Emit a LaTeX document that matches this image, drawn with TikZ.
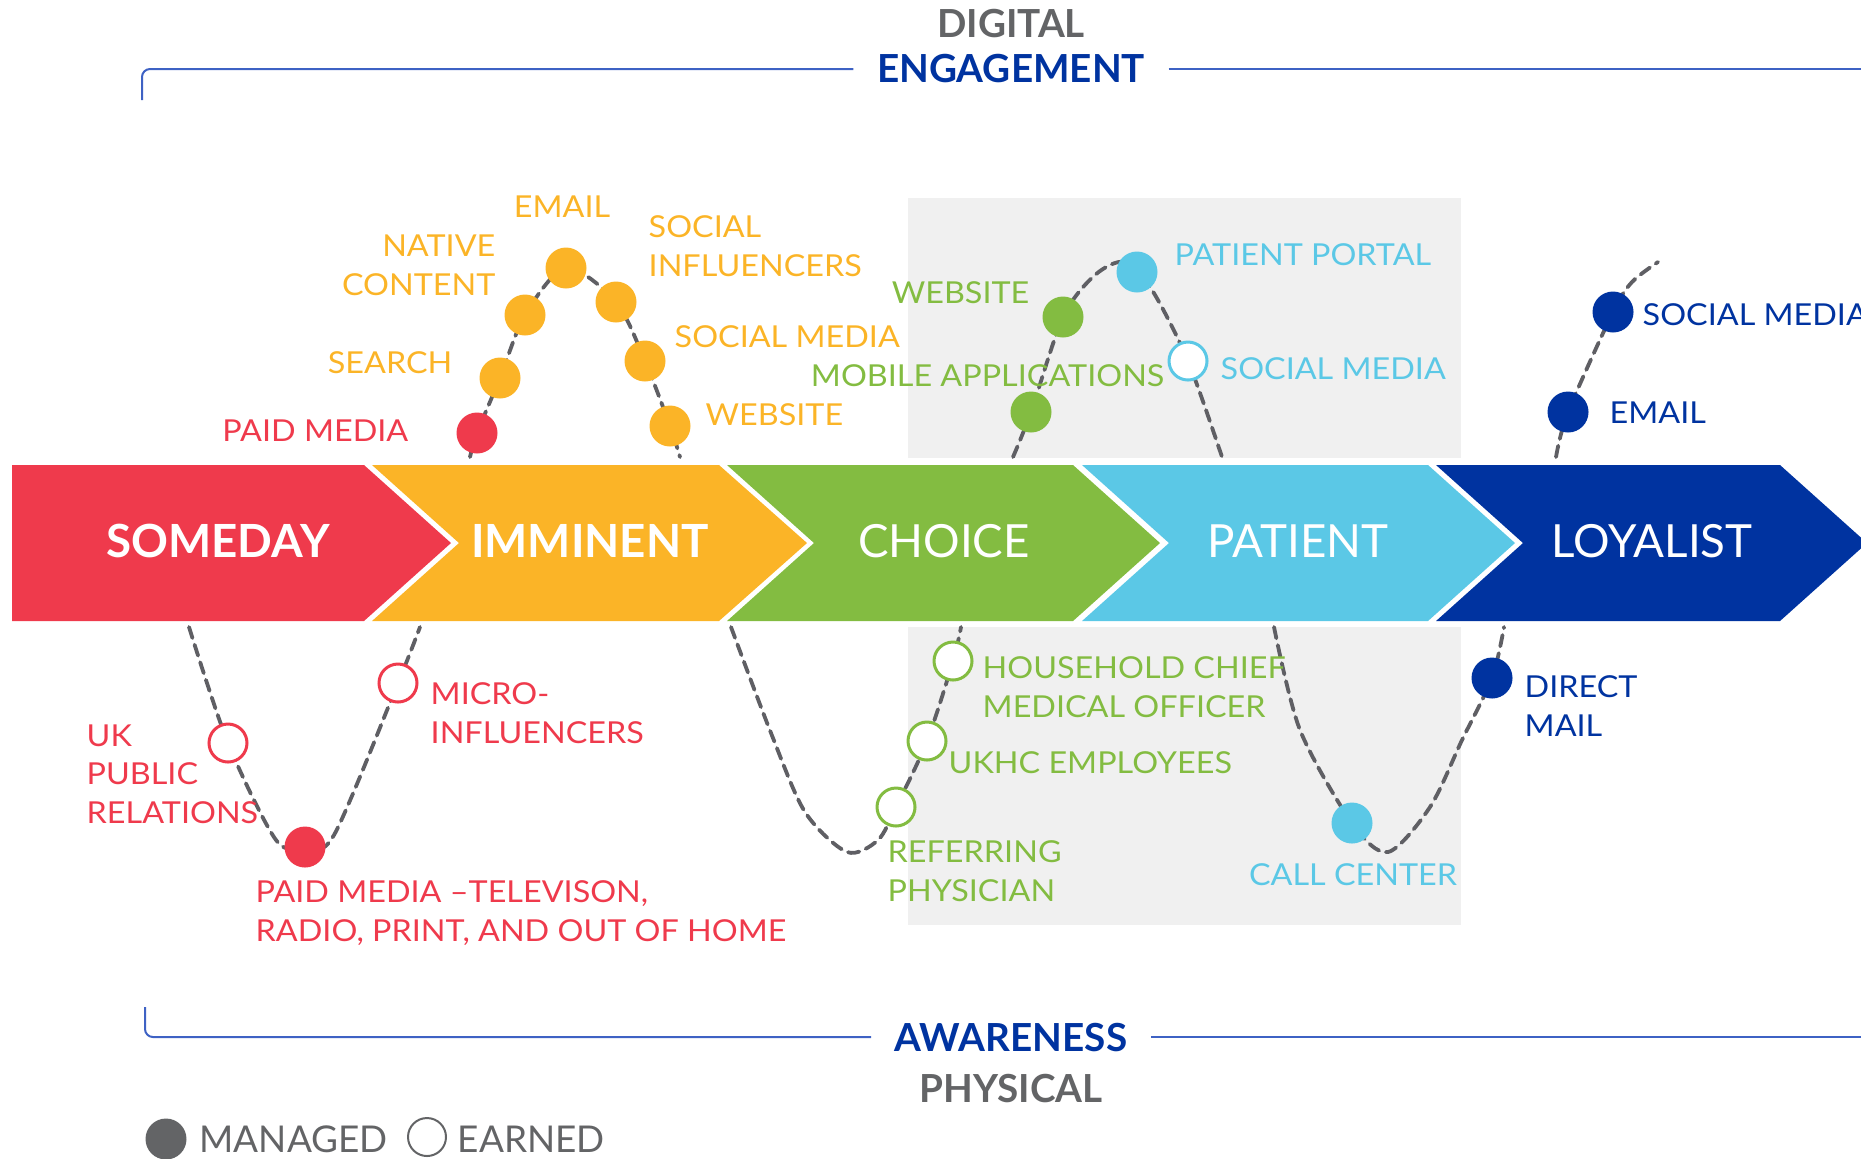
\documentclass[tikz,border=0pt]{standalone}
\usepackage{fontspec}
\setmainfont{Lato}
\newfontfamily\tagfont{Lato}[FakeStretch=1.07, Ligatures=TeX]
\usetikzlibrary{backgrounds}

\definecolor{someday}{RGB}{239,58,76}
\definecolor{imminent}{RGB}{251,180,39}
\definecolor{choice}{RGB}{131,188,65}
\definecolor{patient}{RGB}{91,200,230}
\definecolor{loyalist}{RGB}{0,51,160}
\definecolor{headgray}{RGB}{99,100,102}
\definecolor{trailgray}{RGB}{95,95,100}
\definecolor{panel}{RGB}{240,240,240}
\definecolor{rulecol}{RGB}{62,98,196}

\begin{document}
\begin{tikzpicture}[x=0.1mm, y=-0.1mm,
    lbl/.style={font=\tagfont\fontsize{8.6}{11}\selectfont, inner sep=0pt},
    stage/.style={font=\fontsize{13}{16}\selectfont, text=white, inner sep=0pt},
    head/.style={font=\fontsize{11}{13}\selectfont\bfseries, inner sep=0pt},
    dot/.style={circle, minimum size=4.1mm, inner sep=0pt},
    managed/.style={dot, fill=#1},
    earned/.style={dot, draw=#1, line width=0.3mm, fill=white, minimum size=3.8mm},
    trail/.style={draw=trailgray, line width=0.38mm, dash pattern=on 1.15mm off 0.7mm, line cap=round},
    rule/.style={draw=rulecol, line width=0.2mm}]

    \useasboundingbox (0,0) rectangle (1861,1158);

    %% Headings and brackets
    \node[head, text=headgray] (digital) at (1011,24) {DIGITAL};
    \node[head, text=loyalist, inner xsep=2.3mm] (engage) at (1011,69) {ENGAGEMENT};
    \draw[rule, rounded corners=0.8mm] (142,100) |- (engage.west);
    \draw[rule] (engage.east) -- (1861,69);
    \node[head, text=loyalist, inner xsep=2.3mm] (aware) at (1011,1037) {AWARENESS};
    \node[head, text=headgray] (physical) at (1011,1088) {PHYSICAL};
    \draw[rule, rounded corners=0.8mm] (145,1007) |- (aware.west);
    \draw[rule] (aware.east) -- (1861,1037);

    %% Stages
    \fill[someday] (12,465) -- (364,465) -- (451,543) -- (364,621) -- (12,621) -- cycle;
    \fill[imminent] (372,465) -- (719,465) -- (807,543) -- (719,621) -- (372,621) -- (459,543) -- cycle;
    \fill[choice] (727,465) -- (1073,465) -- (1160,543) -- (1073,621) -- (727,621) -- (814,543) -- cycle;
    \fill[patient] (1082,465) -- (1428,465) -- (1515,543) -- (1428,621) -- (1082,621) -- (1169,543) -- cycle;
    \fill[loyalist] (1436,465) -- (1780,465) -- (1867,543) -- (1780,621) -- (1436,621) -- (1523,543) -- cycle;
    \node[stage, font=\fontsize{13}{16}\selectfont\bfseries] (someday) at (218,541) {SOMEDAY};
    \node[stage, font=\fontsize{13}{16}\selectfont\bfseries] (imminent) at (590,541) {IMMINENT};
    \node[stage] (choice) at (944,541) {CHOICE};
    \node[stage] (patient) at (1298,541) {PATIENT};
    \node[stage] (loyalist) at (1652,541) {LOYALIST};

    %% Digital touch points
    \node[managed=someday] (paid) at (477,433) {};
    \node[managed=imminent] (search) at (500,378) {};
    \node[managed=imminent] (native) at (525,315) {};
    \node[managed=imminent] (email) at (566,268) {};
    \node[managed=imminent] (influ) at (616,302) {};
    \node[managed=imminent] (social) at (645,361) {};
    \node[managed=imminent] (web) at (670,426) {};
    \node[lbl, text=someday, anchor=east] at (409,431) {PAID MEDIA};
    \node[lbl, text=imminent, anchor=east] at (453,363) {SEARCH};
    \node[lbl, text=imminent, anchor=east, align=right] at (496,265) {NATIVE\\CONTENT};
    \node[lbl, text=imminent] at (562,207) {EMAIL};
    \node[lbl, text=imminent, anchor=west, align=left] at (648,246) {SOCIAL\\INFLUENCERS};
    \node[lbl, text=imminent, anchor=west] at (674,337) {SOCIAL MEDIA};
    \node[lbl, text=imminent, anchor=west] at (705,415) {WEBSITE};

    \node[managed=choice] (mobile) at (1031,412) {};
    \node[managed=choice] (site) at (1063,317) {};
    \node[managed=patient] (portal) at (1137,272) {};
    \node[earned=patient] (psocial) at (1188,361) {};
    \node[lbl, text=choice, anchor=east] at (1030,293) {WEBSITE};
    \node[lbl, text=choice, anchor=east] at (1165,376) {MOBILE APPLICATIONS};
    \node[lbl, text=patient, anchor=west] at (1174,255) {PATIENT PORTAL};
    \node[lbl, text=patient, anchor=west] at (1220,369) {SOCIAL MEDIA};

    \node[managed=loyalist] (lemail) at (1568,412) {};
    \node[managed=loyalist] (lsocial) at (1613,312) {};
    \node[lbl, text=loyalist, anchor=west] at (1642,315) {SOCIAL MEDIA};
    \node[lbl, text=loyalist, anchor=west] at (1609,413) {EMAIL};

    %% Physical touch points
    \node[earned=someday] (pr) at (228,743) {};
    \node[managed=someday] (tv) at (305,847) {};
    \node[earned=someday] (micro) at (398,683) {};
    \node[lbl, text=someday, anchor=west, align=left] at (86,774) {UK\\PUBLIC\\RELATIONS};
    \node[lbl, text=someday, anchor=west, align=left] at (430,713) {MICRO-\\INFLUENCERS};
    \node[lbl, text=someday, anchor=west, align=left] at (255,913) {PAID MEDIA –TELEVISON,\\RADIO, PRINT, AND OUT OF HOME};

    \node[earned=choice] (refer) at (896,807) {};
    \node[earned=choice] (ukhc) at (927,741) {};
    \node[earned=choice] (house) at (953,661) {};
    \node[lbl, text=choice, anchor=west, align=left] at (982,687) {HOUSEHOLD CHIEF\\MEDICAL OFFICER};
    \node[lbl, text=choice, anchor=west] at (948,763) {UKHC EMPLOYEES};
    \node[lbl, text=choice, anchor=west, align=left] at (887,871) {REFERRING\\PHYSICIAN};

    \node[managed=patient] (call) at (1352,823) {};
    \node[managed=loyalist] (mail) at (1492,678) {};
    \node[lbl, text=patient] at (1353,875) {CALL CENTER};
    \node[lbl, text=loyalist, anchor=west, align=left] at (1524,706) {DIRECT\\MAIL};

    %% Legend
    \node[managed=headgray] (mkey) at (166,1139) {};
    \node[lbl, font=\fontsize{10.5}{12}\selectfont, text=headgray, anchor=west] at (199,1139) {MANAGED};
    \node[earned=headgray, line width=0.2mm] (ekey) at (427,1137) {};
    \node[lbl, font=\fontsize{10.5}{12}\selectfont, text=headgray, anchor=west] at (457,1139) {EARNED};

    %% Panels and dashed journeys go underneath
    \begin{scope}[on background layer]
        \fill[panel] (908,198) rectangle (1461,458);
        \fill[panel] (908,627) rectangle (1461,925);

        \coordinate (a0) at (470,457);
        \coordinate (a1) at (680,457);
        \draw[trail] plot[smooth] coordinates {(a0) (paid.center) (search.center) (native.center) (email.center) (influ.center) (social.center) (web.center) (a1)};

        \coordinate (b0) at (1013,457);
        \coordinate (b1) at (1095,275);
        \coordinate (b2) at (1125,262);
        \coordinate (b3) at (1152,290);
        \coordinate (b4) at (1222,457);
        \draw[trail] plot[smooth] coordinates {(b0) (mobile.center) (site.center) (b1) (b2) (b3) (psocial.center) (b4)};

        \coordinate (c0) at (1556,457);
        \coordinate (c1) at (1632,282);
        \coordinate (c2) at (1658,262);
        \draw[trail] plot[smooth] coordinates {(c0) (lemail.center) (lsocial.center) (c1) (c2)};

        \coordinate (d0) at (189,627);
        \coordinate (d1) at (276,840);
        \coordinate (d2) at (334,835);
        \coordinate (d3) at (420,627);
        \draw[trail] plot[smooth] coordinates {(d0) (pr.center) (d1) (tv.center) (d2) (micro.center) (d3)};

        \coordinate (e0) at (731,627);
        \coordinate (e1) at (771,733);
        \coordinate (e2) at (805,812);
        \coordinate (e3) at (847,852);
        \coordinate (e4) at (878,840);
        \coordinate (e5) at (961,627);
        \draw[trail] plot[smooth] coordinates {(e0) (e1) (e2) (e3) (e4) (refer.center) (ukhc.center) (house.center) (e5)};

        \coordinate (f0) at (1274,627);
        \coordinate (f1) at (1300,730);
        \coordinate (f2) at (1388,852);
        \coordinate (f3) at (1430,807);
        \coordinate (f4) at (1462,740);
        \coordinate (f5) at (1504,627);
        \draw[trail] plot[smooth] coordinates {(f0) (f1) (call.center) (f2) (f3) (f4) (mail.center) (f5)};
    \end{scope}

\end{tikzpicture}
\end{document}
